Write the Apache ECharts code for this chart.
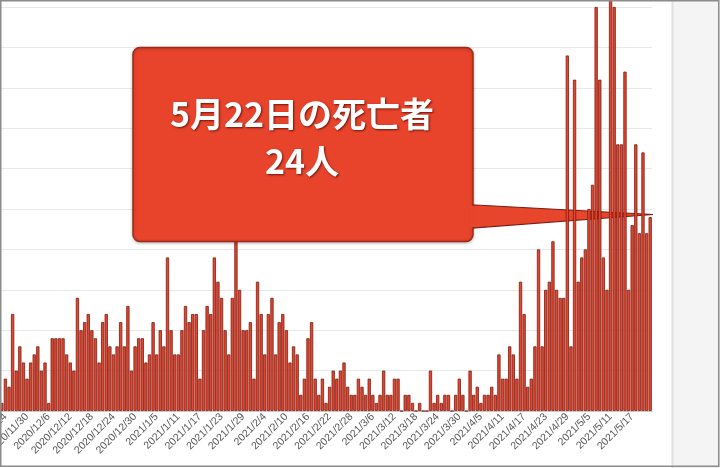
<!DOCTYPE html>
<html>
<head>
<meta charset="utf-8">
<script src="https://cdn.jsdelivr.net/npm/echarts@6/dist/echarts.min.js"></script>
<style>
html,body{margin:0;padding:0;background:#fff;}
#chart{width:720px;height:468px;}
</style>
</head>
<body>
<div id="chart"></div>
<script>
// Daily deaths, 2020/11/23 .. 2021/5/22 (one value per day)
const startDate = '2020/11/23';
const dayCount = 181;
const deaths = [
  1,4,3,12,5,8,6,4,6,7,8,5,6,1,9,9,9,9,7,6,
  5,14,10,11,12,10,9,6,11,12,8,7,8,11,8,13,5,8,9,9,
  6,7,11,7,10,8,19,10,7,7,10,13,11,12,12,4,10,13,12,19,
  16,14,10,7,14,23,15,10,10,11,4,16,12,7,12,14,7,11,12,10,
  6,8,7,2,4,9,11,4,2,4,1,3,5,4,5,6,3,2,2,4,
  3,2,4,2,1,2,5,2,2,4,4,0,2,2,1,0,1,0,0,5,
  1,2,1,2,2,0,2,4,2,0,5,2,3,1,2,2,3,2,7,4,
  4,8,7,4,16,12,3,4,8,20,8,15,16,21,15,14,14,44,8,41,
  16,19,20,25,28,50,41,19,15,51,50,33,33,42,15,23,33,22,32,22,
  24
];
const calloutLines = ['5月22日の死亡者', '24人'];

function buildDates(start, n) {
  const p = start.split('/').map(Number);
  const d = new Date(p[0], p[1] - 1, p[2]);
  const out = [];
  for (let i = 0; i < n; i++) {
    out.push(d.getFullYear() + '/' + (d.getMonth() + 1) + '/' + d.getDate());
    d.setDate(d.getDate() + 1);
  }
  return out;
}
const categories = buildDates(startDate, dayCount);

const chart = echarts.init(document.getElementById('chart'));
const red = '#e8452d';
const dark = '#7a1c12';

chart.setOption({
  animation: false,
  backgroundColor: '#ffffff',
  grid: { left: 0, right: 68, top: 7, bottom: 57, containLabel: false, outerBoundsMode: 'none' },
  xAxis: {
    type: 'category',
    data: categories,
    boundaryGap: true,
    axisTick: { show: false },
    axisLine: { show: true, lineStyle: { color: '#d0d0d0', width: 1 } },
    axisLabel: {
      rotate: 45,
      interval: function (idx) { return idx % 6 === 1; },
      fontSize: 10.5,
      fontFamily: 'Liberation Sans, Arial, sans-serif',
      color: '#555',
      margin: 4
    },
    splitLine: { show: false }
  },
  yAxis: {
    type: 'value',
    min: 0, max: 50, interval: 5,
    axisLabel: { show: false },
    axisLine: { show: false },
    axisTick: { show: false },
    splitLine: { show: true, lineStyle: { color: '#e8e8e8', width: 1 } }
  },
  series: [{
    type: 'bar',
    data: deaths,
    clip: false,
    barCategoryGap: '10%',
    itemStyle: { color: red, borderColor: dark, borderWidth: 0.8 },
    z: 2
  }],
  graphic: [
    { type: 'rect', z: 0, silent: true,
      shape: { x: 672, y: 0, width: 48, height: 468 },
      style: { fill: '#f4f4f4', stroke: null } },
    { type: 'line', z: 0, silent: true,
      shape: { x1: 672.5, y1: 0, x2: 672.5, y2: 468 },
      style: { stroke: '#e0e0e0', lineWidth: 2 } },
    { type: 'polygon', z: 1, silent: true,
      shape: { points: [[466, 204.5], [653, 214.5], [466, 228.5]] },
      style: { fill: red, stroke: dark, lineWidth: 1.2 } },
    { type: 'rect', z: 100, silent: true,
      shape: { x: 133, y: 47.5, width: 340, height: 194, r: 7 },
      style: { fill: '#e8432b', stroke: '#a02a19', lineWidth: 1.5,
               shadowBlur: 3, shadowColor: 'rgba(0,0,0,0.25)', shadowOffsetY: 1 } },
    { type: 'rect', z: 101, silent: true,
      shape: { x: 470, y: 206, width: 6, height: 21 },
      style: { fill: '#e8432b', stroke: null } },
    { type: 'text', z: 102, silent: true,
      style: { text: calloutLines[0], x: 302, y: 114,
               align: 'center', verticalAlign: 'middle',
               textAlign: 'center', textVerticalAlign: 'middle',
               fill: '#ffffff', fontSize: 34, fontWeight: 'bold',
               fontFamily: '"Noto Sans CJK JP", sans-serif',
               textShadowColor: 'rgba(70,10,0,0.75)', textShadowBlur: 2,
               textShadowOffsetX: 1, textShadowOffsetY: 1 } },
    { type: 'text', z: 102, silent: true,
      style: { text: calloutLines[1], x: 302, y: 161,
               align: 'center', verticalAlign: 'middle',
               textAlign: 'center', textVerticalAlign: 'middle',
               fill: '#ffffff', fontSize: 34, fontWeight: 'bold',
               fontFamily: '"Noto Sans CJK JP", sans-serif',
               textShadowColor: 'rgba(70,10,0,0.75)', textShadowBlur: 2,
               textShadowOffsetX: 1, textShadowOffsetY: 1 } },
    { type: 'rect', z: 200, silent: true,
      shape: { x: 0.75, y: 0.75, width: 718, height: 465.5 },
      style: { fill: null, stroke: '#8c8c8c', lineWidth: 1.5 } }
  ]
});
</script>
</body>
</html>
